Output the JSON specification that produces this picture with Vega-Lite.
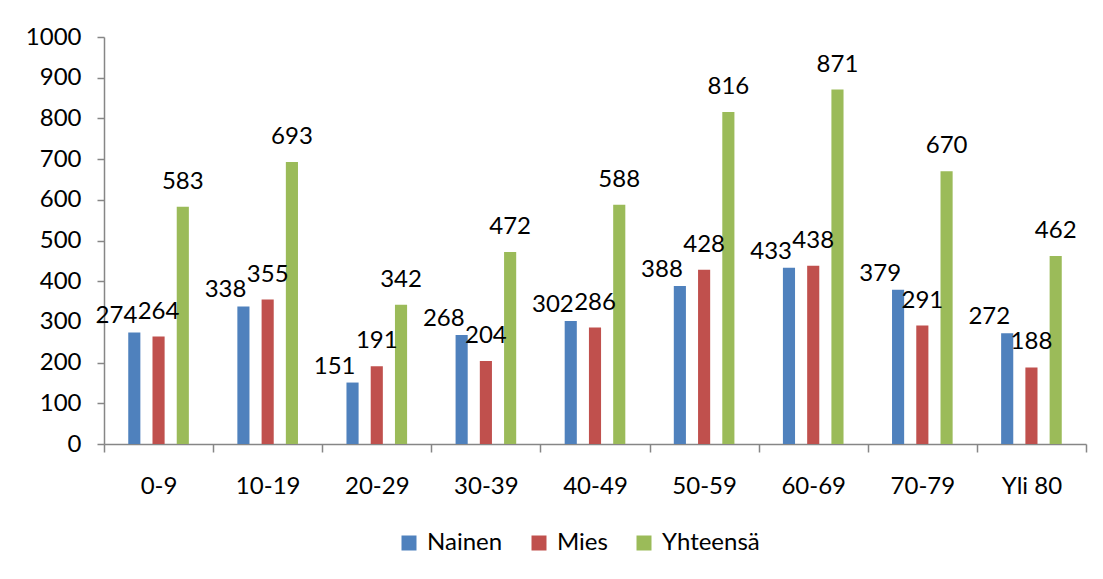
{
  "$schema": "https://vega.github.io/schema/vega-lite/v6.json",
  "width": 982,
  "height": 407,
  "autosize": "none",
  "padding": {"left": 104, "top": 37, "right": 17, "bottom": 135},
  "background": "white",
  "config": {
    "view": {"stroke": null},
    "font": "Lato",
    "axis": {"labelFont": "Lato", "labelFontSize": 24, "labelColor": "#000000", "domainColor": "#868686", "tickColor": "#868686", "grid": false, "title": null}
  },
  "data": {
    "values": [
      {"age": "0-9", "group": "Nainen", "value": 274},
      {"age": "0-9", "group": "Mies", "value": 264},
      {"age": "0-9", "group": "Yhteensä", "value": 583},
      {"age": "10-19", "group": "Nainen", "value": 338},
      {"age": "10-19", "group": "Mies", "value": 355},
      {"age": "10-19", "group": "Yhteensä", "value": 693},
      {"age": "20-29", "group": "Nainen", "value": 151},
      {"age": "20-29", "group": "Mies", "value": 191},
      {"age": "20-29", "group": "Yhteensä", "value": 342},
      {"age": "30-39", "group": "Nainen", "value": 268},
      {"age": "30-39", "group": "Mies", "value": 204},
      {"age": "30-39", "group": "Yhteensä", "value": 472},
      {"age": "40-49", "group": "Nainen", "value": 302},
      {"age": "40-49", "group": "Mies", "value": 286},
      {"age": "40-49", "group": "Yhteensä", "value": 588},
      {"age": "50-59", "group": "Nainen", "value": 388},
      {"age": "50-59", "group": "Mies", "value": 428},
      {"age": "50-59", "group": "Yhteensä", "value": 816},
      {"age": "60-69", "group": "Nainen", "value": 433},
      {"age": "60-69", "group": "Mies", "value": 438},
      {"age": "60-69", "group": "Yhteensä", "value": 871},
      {"age": "70-79", "group": "Nainen", "value": 379},
      {"age": "70-79", "group": "Mies", "value": 291},
      {"age": "70-79", "group": "Yhteensä", "value": 670},
      {"age": "Yli 80", "group": "Nainen", "value": 272},
      {"age": "Yli 80", "group": "Mies", "value": 188},
      {"age": "Yli 80", "group": "Yhteensä", "value": 462}
    ]
  },
  "encoding": {
    "x": {
      "field": "age", "type": "nominal", "sort": null,
      "scale": {"paddingInner": 0, "paddingOuter": 0},
      "axis": {"labelAngle": 0, "tickBand": "extent", "tickSize": 8, "labelPadding": 22, "domainWidth": 1.5, "tickWidth": 1.5}
    },
    "xOffset": {
      "field": "group", "type": "nominal", "sort": ["Nainen", "Mies", "Yhteensä"],
      "scale": {"paddingInner": 0.5, "paddingOuter": 1.12}
    },
    "y": {
      "field": "value", "type": "quantitative",
      "scale": {"domain": [0, 1000], "nice": false},
      "axis": {"values": [0,100,200,300,400,500,600,700,800,900,1000], "format": "d", "tickSize": 7, "labelPadding": 16, "domainWidth": 1.5, "tickWidth": 1.5}
    }
  },
  "layer": [
    {
      "mark": {"type": "bar"},
      "encoding": {
        "color": {
          "field": "group", "type": "nominal", "sort": ["Nainen", "Mies", "Yhteensä"],
          "scale": {"domain": ["Nainen", "Mies", "Yhteensä"], "range": ["#4F81BD", "#C0504D", "#9BBB59"]},
          "legend": {
            "title": null, "orient": "none", "direction": "horizontal",
            "legendX": 293, "legendY": 494,
            "symbolType": "square", "symbolSize": 225, "symbolStrokeWidth": 0,
            "labelFont": "Lato", "labelFontSize": 24, "labelColor": "#000000",
            "labelOffset": 6, "columnPadding": 24
          }
        }
      }
    },
    {
      "transform": [{"filter": "datum.group === 'Nainen'"}],
      "mark": {"type": "text", "baseline": "alphabetic", "align": "right", "dx": 3, "dy": -9, "fontSize": 24, "font": "Lato", "color": "#000000"},
      "encoding": {"text": {"field": "value", "type": "quantitative"}}
    },
    {
      "transform": [{"filter": "datum.group !== 'Nainen'"}],
      "mark": {"type": "text", "baseline": "alphabetic", "dy": -18, "fontSize": 24, "font": "Lato", "color": "#000000"},
      "encoding": {"text": {"field": "value", "type": "quantitative"}}
    }
  ]
}
